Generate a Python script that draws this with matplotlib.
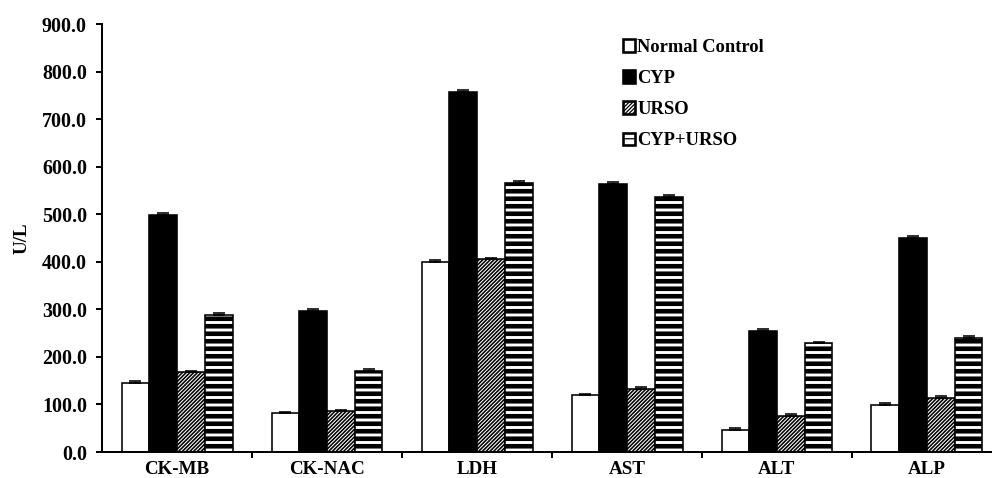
import matplotlib
matplotlib.use("Agg")
import matplotlib.pyplot as plt
import numpy as np

# dane (U/L)
categories = ["CK-MB", "CK-NAC", "LDH", "AST", "ALT", "ALP"]
groups = ["Normal Control", "CYP", "URSO", "CYP+URSO"]

normal = [146, 82, 400, 119, 47, 98]
cyp = [499, 297, 758, 563, 255, 451]
urso = [168, 86, 405, 133, 75, 114]
cyp_urso = [288, 171, 566, 537, 229, 239]

err_normal = [3, 3, 4, 3, 4, 5]
err_cyp = [4, 3, 4, 4, 4, 4]
err_urso = [3, 2, 3, 3, 4, 3]
err_cyp_urso = [4, 3, 4, 4, 3, 4]

DPI = 90
def px(v):
    return v * 72.0 / DPI  # piksele -> punkty

plt.rcParams["font.family"] = ["Liberation Serif", "DejaVu Serif"]
plt.rcParams["font.weight"] = "bold"

fig = plt.figure(figsize=(992 / DPI, 478 / DPI), dpi=DPI)
ax = fig.add_axes([102 / 992, 26 / 478, 900 / 992, 428 / 478])

x = np.arange(len(categories))
w = 0.185
series = [normal, cyp, urso, cyp_urso]
errors = [err_normal, err_cyp, err_urso, err_cyp_urso]
faces = ["white", "black", "white", "white"]
hatches = [None, None, "////////", "--"]
hatch_lw = [1, 1, px(1.6), px(4.6)]

for i, (vals, errs) in enumerate(zip(series, errors)):
    with plt.rc_context({"hatch.linewidth": hatch_lw[i], "hatch.color": "black"}):
        bars = ax.bar(x + (i - 1.5) * w, vals, w, color=faces[i], edgecolor="black",
                      linewidth=px(1.6), hatch=hatches[i], label=groups[i], zorder=2)
        for b in bars:
            if hasattr(b, "set_hatch_linewidth"):
                b.set_hatch_linewidth(hatch_lw[i])
    ax.errorbar(x + (i - 1.5) * w, vals, yerr=[np.zeros(len(vals)), errs], fmt="none",
                ecolor="black", elinewidth=px(1.4), capsize=px(6), capthick=px(1.6), zorder=3)

ax.set_xlim(-0.5, len(categories) - 0.5)
ax.set_ylim(0, 900)
ax.set_yticks(np.arange(0, 901, 100))
ax.set_yticklabels([f"{v:.1f}" for v in range(0, 901, 100)], fontsize=px(20), fontweight="bold")
ax.set_ylabel("U/L", fontsize=px(19), fontweight="bold", labelpad=px(11))

# podpisy kategorii bez kresek, kreski pomiędzy grupami
ax.set_xticks(x)
ax.set_xticklabels(categories, fontsize=px(19), fontweight="bold")
ax.tick_params(axis="x", length=0, pad=px(9))
ax.set_xticks(np.arange(0.5, len(categories) - 0.5, 1), minor=True)
ax.tick_params(axis="x", which="minor", direction="out", length=px(6), width=px(2))
ax.tick_params(axis="y", direction="out", length=px(6), width=px(2), pad=px(9))

for s in ["top", "right"]:
    ax.spines[s].set_visible(False)
for s in ["left", "bottom"]:
    ax.spines[s].set_linewidth(px(2))

leg = ax.legend(loc="upper left", bbox_to_anchor=(623 / 992, 1 - 39 / 478),
                bbox_transform=fig.transFigure, frameon=False, fontsize=px(18.5),
                handlelength=0.65, handleheight=0.65, handletextpad=0.12,
                labelspacing=0.76, borderpad=0, borderaxespad=0)
for h in leg.legend_handles:
    h.set_linewidth(px(2.6))

plt.savefig("out.png", dpi=DPI)
